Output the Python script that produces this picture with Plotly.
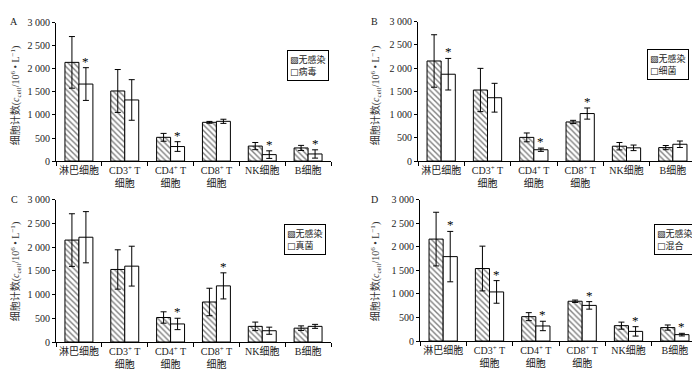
import plotly.graph_objects as go

# ---------------- data ----------------
categories = ["淋巴细胞", "CD3<sup>+</sup> T<br>细胞", "CD4<sup>+</sup> T<br>细胞",
              "CD8<sup>+</sup> T<br>细胞", "NK细胞", "B细胞"]
ytick_vals = [0, 500, 1000, 1500, 2000, 2500, 3000]
ytick_text = ["0", "500", "1 000", "1 500", "2 000", "2 500", "3 000"]

ctrl_label = "无感染"
panel_letters = ["A", "B", "C", "D"]
group_names = ["病毒", "细菌", "真菌", "混合"]

# control (无感染) per panel
ctrl_A = [2140, 1520, 515, 840, 325, 285]
ctrl_A_err = [560, 465, 85, 20, 78, 55]
ctrl_B = [2155, 1530, 510, 842, 320, 290]
ctrl_B_err = [565, 466, 95, 35, 80, 45]
ctrl_C = [2150, 1530, 517, 844, 330, 292]
ctrl_C_err = [555, 415, 120, 290, 90, 48]
ctrl_D = [2165, 1540, 518, 845, 327, 286]
ctrl_D_err = [570, 475, 85, 25, 75, 55]

# infected groups
virus = [1670, 1325, 315, 862, 140, 154]
virus_err = [355, 440, 105, 45, 82, 90]
bacteria = [1870, 1364, 244, 1023, 285, 362]
bacteria_err = [340, 310, 35, 120, 60, 70]
fungi = [2210, 1600, 381, 1184, 238, 330]
fungi_err = [540, 420, 120, 275, 75, 42]
mixed = [1793, 1043, 320, 757, 205, 136]
mixed_err = [535, 240, 100, 80, 100, 28]

# significance markers (1 = asterisk above infected bar)
star_A = [1, 0, 1, 0, 1, 1]
star_B = [1, 0, 1, 1, 0, 0]
star_C = [0, 0, 1, 1, 0, 0]
star_D = [1, 1, 1, 1, 1, 1]

# ---------------- layout helpers ----------------
W, H = 700, 370
# pixel boxes: (x0, x1, y_top(3000), y_bottom(0))
boxes = [(48, 323, 9, 152), (410, 688, 8, 152), (48, 323, 192, 339), (412, 690, 192, 338)]
legend_pos = [(321, 37), (681, 36), (318, 217), (688, 217)]
letter_pos = [(6, 8), (366, 8), (6, 192), (366, 192)]
ytitle_pos = [(8, 84), (368, 84), (8, 266), (368, 266)]

ctrls = [(ctrl_A, ctrl_A_err), (ctrl_B, ctrl_B_err), (ctrl_C, ctrl_C_err), (ctrl_D, ctrl_D_err)]
infs = [(virus, virus_err), (bacteria, bacteria_err), (fungi, fungi_err), (mixed, mixed_err)]
stars = [star_A, star_B, star_C, star_D]

LAT = "Liberation Serif, 'Noto Sans CJK SC', serif"
fig = go.Figure()
annotations = []
layout = {}

for i in range(4):
    sfx = "" if i == 0 else str(i + 1)
    xa, ya = "x" + sfx, "y" + sfx
    cv, ce = ctrls[i]
    iv, ie = infs[i]
    fig.add_trace(go.Bar(
        x=categories, y=cv, name=ctrl_label, xaxis=xa, yaxis=ya,
        offsetgroup="c", showlegend=False,
        marker=dict(color="white", line=dict(color="black", width=1),
                    pattern=dict(shape="\\", fgcolor="black", bgcolor="white",
                                 size=4, solidity=0.35)),
        error_y=dict(type="data", array=ce, visible=True, color="black",
                     thickness=1, width=3),
    ))
    fig.add_trace(go.Bar(
        x=categories, y=iv, name=group_names[i], xaxis=xa, yaxis=ya,
        offsetgroup="i", showlegend=False,
        marker=dict(color="white", line=dict(color="black", width=1)),
        error_y=dict(type="data", array=ie, visible=True, color="black",
                     thickness=1, width=3),
    ))
    x0, x1, yt, yb = boxes[i]
    layout["xaxis" + sfx] = dict(
        domain=[x0 / W, x1 / W], anchor=ya, type="category",
        range=[-0.5, 5.5], showline=True, linecolor="black", linewidth=1,
        ticks="outside", tickson="boundaries", ticklen=4, tickcolor="black",
        tickangle=0, showgrid=False,
        tickfont=dict(family=LAT, size=10, color="#222"),
    )
    layout["yaxis" + sfx] = dict(
        domain=[1 - yb / H, 1 - yt / H], anchor=xa, range=[0, 3000],
        showline=True, linecolor="black", linewidth=1, ticks="outside",
        ticklen=3, tickcolor="black", showgrid=False, zeroline=False,
        tickvals=ytick_vals, ticktext=ytick_text,
        tickfont=dict(family=LAT, size=10, color="#222"),
    )
    # legend box (text legend with hatch / white square glyphs)
    lx, ly = legend_pos[i]
    annotations.append(dict(
        x=lx / W, y=1 - ly / H, xref="paper", yref="paper",
        xanchor="right", yanchor="top", align="left", showarrow=False,
        text=("<span style='font-family:DejaVu Sans'>▧</span>" + ctrl_label +
              "<br><span style='font-family:DejaVu Sans'>□</span>" + group_names[i]),
        bordercolor="black", borderwidth=1, borderpad=2, bgcolor="white",
        font=dict(family="'Noto Sans CJK SC', sans-serif", size=9, color="#222"),
    ))
    # asterisks
    for k, s in enumerate(stars[i]):
        if s:
            annotations.append(dict(
                x=categories[k], y=iv[k] + ie[k], xref=xa, yref=ya,
                text="*", showarrow=False, xshift=7, yshift=-3,
                yanchor="bottom", font=dict(family=LAT, size=13, color="black"),
            ))
    # panel letter
    px, py = letter_pos[i]
    annotations.append(dict(
        x=px / W, y=1 - py / H, xref="paper", yref="paper", text=panel_letters[i],
        showarrow=False, xanchor="center", yanchor="middle",
        font=dict(family=LAT, size=10, color="#222"),
    ))
    # y title
    tx, ty = ytitle_pos[i]
    annotations.append(dict(
        x=tx / W, y=1 - ty / H, xref="paper", yref="paper",
        text="细胞计数(<i>c</i><sub>cell</sub>/10<sup>6</sup> • L<sup>−1</sup>)",
        textangle=-90, showarrow=False, xanchor="center", yanchor="middle",
        font=dict(family=LAT, size=10, color="#333"),
    ))

fig.update_layout(
    width=W, height=H, margin=dict(l=0, r=0, t=0, b=0),
    paper_bgcolor="white", plot_bgcolor="white",
    barmode="group", bargap=0.39, bargroupgap=0,
    annotations=annotations, showlegend=False,
    **layout,
)

fig.write_html("out.html")
